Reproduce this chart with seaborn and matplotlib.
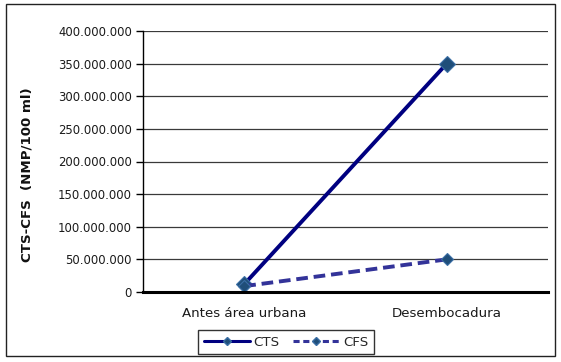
import matplotlib
matplotlib.use("Agg")
import matplotlib.pyplot as plt
import matplotlib.patches as mpatches
import matplotlib.ticker as mticker
import seaborn as sns
import pandas as pd

categories = ["Antes área urbana", "Desembocadura"]
cts = [12_000_000, 350_000_000]
cfs = [9_000_000, 50_000_000]
series_names = ["CTS", "CFS"]

df = pd.DataFrame({
    "pos": [0, 1, 0, 1],
    "valor": cts + cfs,
    "serie": [series_names[0]] * 2 + [series_names[1]] * 2,
})

sns.set_theme(style="white")
plt.rcParams["font.family"] = ["DejaVu Sans"]

fig = plt.figure(figsize=(5.61, 3.62), dpi=100)
ax = fig.add_axes([143 / 561, 1 - 292 / 362, 405 / 561, 261 / 362])

styles = {
    "CTS": dict(color="#000080", ls="-", ms=8, lw=2.8),
    "CFS": dict(color="#333399", ls=(0, (3.0, 1.5)), ms=6.5, lw=2.8),
}
for name in series_names:
    sub = df[df["serie"] == name]
    st = styles[name]
    sns.lineplot(data=sub, x="pos", y="valor", ax=ax, color=st["color"],
                 linestyle=st["ls"], linewidth=st["lw"], marker="D",
                 markersize=st["ms"], markerfacecolor="#1F4E79",
                 markeredgecolor="#3A6EA5", markeredgewidth=0.8,
                 label=name, legend=False, zorder=3)

ax.set_xlim(-0.5, 1.5)
ax.set_ylim(0, 400_000_000)
ax.yaxis.set_major_locator(mticker.MultipleLocator(50_000_000))
ax.yaxis.set_major_formatter(mticker.FuncFormatter(
    lambda v, p: "0" if v == 0 else f"{int(v):,}".replace(",", ".")))
ax.set_xticks([0, 1])
ax.set_xticklabels(categories)
ax.set_xticks([-0.5, 0.5, 1.5], minor=True)
ax.tick_params(axis="x", which="major", length=0, pad=11, labelsize=9.6, colors="#1a1a1a")
ax.tick_params(axis="x", which="minor", length=4, width=1, color="black", direction="out")
ax.tick_params(axis="y", length=5, width=1, color="black", direction="out", pad=3,
               labelsize=8.4, colors="#1a1a1a", left=True)

ax.grid(axis="y", color="#3a3a3a", linewidth=0.9)
ax.set_axisbelow(True)
for s in ["top", "right"]:
    ax.spines[s].set_visible(False)
ax.spines["left"].set_color("black")
ax.spines["left"].set_linewidth(1)
ax.spines["bottom"].set_color("black")
ax.spines["bottom"].set_linewidth(2.2)
ax.spines["bottom"].set_zorder(4)

ax.set_xlabel("")
ax.set_ylabel("CTS-CFS  (NMP/100 ml)", fontsize=9.6, fontweight="bold", color="#111111")
ax.yaxis.set_label_coords(-0.27, 0.45)

handles = [
    plt.Line2D([], [], color=styles[n]["color"],
               linestyle="-" if n == "CTS" else (0, (2.0, 1.2)),
               linewidth=2.2, marker="D", markersize=4.5, markerfacecolor="#1F4E79",
               markeredgecolor="#3A6EA5") for n in series_names
]
leg = fig.legend(handles, series_names, loc="center", bbox_to_anchor=(286 / 561, 1 - 342 / 362),
                 ncol=2, frameon=True, fancybox=False, edgecolor="black", fontsize=9.6,
                 handlelength=3.5, columnspacing=1.0, handletextpad=0.25,
                 borderpad=0.4, borderaxespad=0, labelspacing=0.2)
leg.get_frame().set_linewidth(1)

fig.patches.append(mpatches.Rectangle((6 / 561, 1 - 356 / 362), 549 / 561, 352 / 362,
                                      transform=fig.transFigure, fill=False,
                                      edgecolor="#222222", linewidth=1))

fig.savefig("out.png", dpi=100)
